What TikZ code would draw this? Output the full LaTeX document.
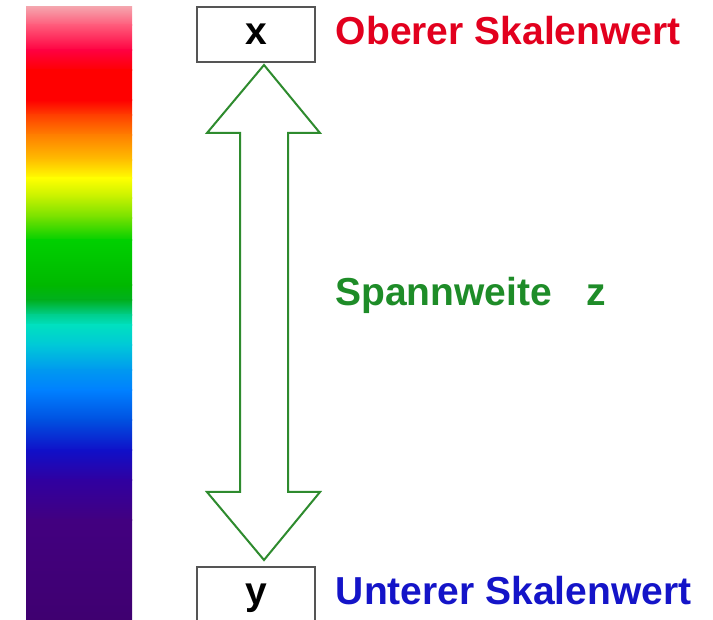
\documentclass[tikz,border=0pt]{standalone}
\usepackage{fontspec}
\setmainfont{Liberation Sans}

\definecolor{labred}{HTML}{E2001E}
\definecolor{labblue}{HTML}{1414C8}
\definecolor{labgreen}{HTML}{1E8C28}
\definecolor{arrgreen}{HTML}{2E8B2E}
\definecolor{boxgray}{HTML}{555555}

% rainbow stops of the colour bar
\definecolor{rb01}{HTML}{F5A3AC}
\definecolor{rb02}{HTML}{FF5A7A}
\definecolor{rb03}{HTML}{FF0040}
\definecolor{rb04}{HTML}{FF0000}
\definecolor{rb05}{HTML}{FF0000}
\definecolor{rb06}{HTML}{FF4000}
\definecolor{rb07}{HTML}{FF8000}
\definecolor{rb08}{HTML}{FFC000}
\definecolor{rb09}{HTML}{FFFF00}
\definecolor{rb10}{HTML}{C0F000}
\definecolor{rb11}{HTML}{70E000}
\definecolor{rb12}{HTML}{00D000}
\definecolor{rb13}{HTML}{00B800}
\definecolor{rb14}{HTML}{00B020}
\definecolor{rb15}{HTML}{00D090}
\definecolor{rb16}{HTML}{00E0C0}
\definecolor{rb17}{HTML}{00C8D8}
\definecolor{rb18}{HTML}{0098F0}
\definecolor{rb19}{HTML}{0080FF}
\definecolor{rb20}{HTML}{0050E0}
\definecolor{rb21}{HTML}{1010C8}
\definecolor{rb22}{HTML}{3000A0}
\definecolor{rb23}{HTML}{420080}
\definecolor{rb24}{HTML}{3F0070}

\begin{document}
\begin{tikzpicture}[x=1pt, y=-1pt,
    bigfont/.style={font=\fontsize{39}{47}\selectfont\bfseries},
    valbox/.style={draw=boxgray, line width=1.5pt, bigfont,
        minimum width=118pt, minimum height=55pt,
        text height=20pt, text depth=0pt, inner sep=0pt},
    scalelabel/.style={bigfont, anchor=base west, inner sep=0pt}]
    \useasboundingbox (0,0) rectangle (713,620);

    % colour bar, one shaded band per pair of stops
    \foreach \ya/\ca/\yb/\cb in {7/rb01/25/rb02, 25/rb02/50/rb03, 50/rb03/70/rb04,
        70/rb04/100/rb05, 100/rb05/115/rb06, 115/rb06/135/rb07, 135/rb07/160/rb08,
        160/rb08/178/rb09, 178/rb09/198/rb10, 198/rb10/218/rb11, 218/rb11/240/rb12,
        240/rb12/285/rb13, 285/rb13/300/rb14, 300/rb14/315/rb15, 315/rb15/325/rb16,
        325/rb16/345/rb17, 345/rb17/370/rb18, 370/rb18/390/rb19, 390/rb19/420/rb20,
        420/rb20/450/rb21, 450/rb21/480/rb22, 480/rb22/520/rb23, 520/rb23/620/rb24}
        \shade[top color=\ca, bottom color=\cb] (26,\ya) rectangle (132,\yb+0.8);

    % scale values
    \node[valbox] (xbox) at (256,34.5) {x};
    \node[valbox] (ybox) at (256,594.5) {y};

    \node[scalelabel, text=labred] (upper) at ([xshift=20pt]xbox.base east) {Oberer Skalenwert};
    \node[scalelabel, text=labblue] (lower) at ([xshift=20pt]ybox.base east) {Unterer Skalenwert};

    % double block arrow for the range
    \coordinate (tiptop) at (264,65);
    \coordinate (tipbot) at (264,560);
    \draw[arrgreen, line width=2pt, fill=white, line join=miter]
        (tiptop) -- ++(56,68) -- ++(-32,0) -- ++(0,359) -- ++(32,0)
        -- (tipbot) -- ++(-57,-68) -- ++(33,0) -- ++(0,-359) -- ++(-33,0) -- cycle;

    \node[scalelabel, text=labgreen] (range) at (335,306) {Spannweite\hspace{35pt}z};
\end{tikzpicture}
\end{document}
